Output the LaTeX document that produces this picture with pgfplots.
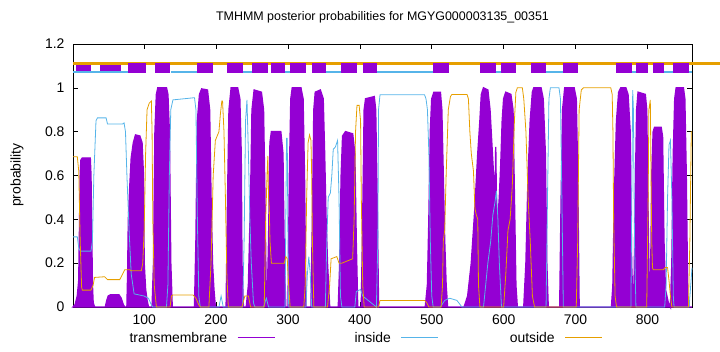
\documentclass[border=0pt]{standalone}
\usepackage{fontspec}
\setmainfont{Liberation Sans}
\usepackage{pgfplots}
\pgfplotsset{compat=1.18}
\definecolor{tmcol}{HTML}{9400D3}
\definecolor{incol}{HTML}{56B4E9}
\definecolor{outcol}{HTML}{E69F00}
\begin{document}
\begin{tikzpicture}
\path[use as bounding box] (0,0) rectangle (720bp,352bp);
\begin{axis}[
  at={(73bp,45bp)}, anchor=south west,
  scale only axis, width=619bp, height=263bp,
  xmin=1, xmax=862, ymin=0, ymax=1.2,
  clip=false,
  xtick={100,200,300,400,500,600,700,800},
  ytick={0,0.2,0.4,0.6,0.8,1,1.2},
  tick align=inside, major tick length=5bp,
  tick style={black, line width=0.6bp},
  axis line style={black, line width=0.8bp},
  /pgf/number format/assume math mode=true,
  tick label style={font=\fontsize{14}{16}\selectfont},
  xticklabel style={yshift=-4bp},
  yticklabel style={xshift=-5bp},
  title={TMHMM posterior probabilities for MGYG000003135\_00351},
  title style={font=\fontsize{12.5}{15}\selectfont, at={(axis description cs:0.5,1)}, anchor=base, yshift=18bp},
  ylabel={probability},
  ylabel style={font=\fontsize{14}{16}\selectfont, at={(axis description cs:-0.0905,0.502)}, anchor=center},
  legend columns=3, legend plot pos=right, legend cell align=right,
  legend style={draw=none, fill=none, font=\fontsize{14}{16}\selectfont,
    at={(axis description cs:0.084,-0.117)}, anchor=west,
    /tikz/every odd column/.append style={column sep=8bp},
    /tikz/every even column/.append style={column sep=17bp}},
  legend image code/.code={\draw[#1] (0bp,0bp) -- (37bp,0bp);},
]
% transmembrane
\addplot[fill=tmcol, draw=tmcol, line width=1.4bp, forget plot] table {
x y
1 0
4 0.01
7 0.05
9 0.12
10 0.35
11 0.6
12 0.67
14 0.68
25 0.68
26 0.6
27 0.35
28 0.1
29 0.02
31 0
46 0
48 0.03
50 0.05
53 0.055
65 0.055
68 0.04
71 0.01
73 0
76 0
77 0.15
78 0.4
80 0.55
82 0.68
85 0.75
88 0.785
94 0.78
97 0.75
99 0.6
100 0.2
102 0.08
104 0.03
106 0
111 0
113 0.2
115 0.8
117 0.97
119 1.0
131 1.0
133 0.97
135 0.8
137 0.2
139 0
170 0
172 0.3
174 0.85
177 0.97
180 0.995
188 0.99
191 0.9
193 0.5
195 0.2
197 0.08
199 0
214 0
216 0.5
218 0.9
221 1.0
230 1.0
233 0.95
235 0.7
236 0.2
238 0
242 0
245 0.1
248 0.5
250 0.9
253 0.99
263 0.98
266 0.9
268 0.5
270 0
271 0
273 0.3
275 0.75
277 0.8
290 0.8
293 0.7
295 0.2
297 0
300 0
302 0.6
304 0.95
306 1.0
318 1.0
321 0.95
323 0.6
325 0
332 0
334 0.4
336 0.9
338 0.98
345 0.99
349 0.95
351 0.7
353 0.4
355 0.2
358 0
370 0
372 0.2
374 0.6
376 0.78
380 0.8
390 0.79
393 0.7
395 0.3
397 0
402 0
404 0.4
406 0.9
408 0.95
420 0.96
422 0.9
424 0.5
426 0
491 0
494 0.1
496 0.4
498 0.8
500 0.95
503 0.98
512 0.98
514 0.9
516 0.6
518 0.3
520 0.1
522 0
545 0
550 0.05
555 0.2
560 0.45
564 0.7
567 0.85
569 0.97
572 1.0
578 0.99
581 0.9
584 0.72
586 0.6
588 0.45
589 0.73
590 0.45
592 0.4
594 0.5
596 0.65
598 0.85
600 0.95
603 0.98
610 0.97
613 0.9
615 0.5
617 0.1
619 0
628 0
631 0.2
634 0.6
637 0.85
640 0.98
642 1.0
652 1.0
655 0.95
658 0.7
660 0.2
662 0
678 0
680 0.5
682 0.9
685 1.0
698 1.0
701 0.95
703 0.6
705 0
750 0
752 0.1
754 0.5
757 0.85
760 0.98
763 1.0
770 1.0
773 0.97
776 0.8
778 0.2
780 0
781 0
783 0.5
785 0.9
787 0.98
797 0.97
799 0.9
801 0.4
803 0
804 0
806 0.6
808 0.8
810 0.82
819 0.82
821 0.78
823 0.3
825 0.08
829 0.02
832 0
834 0.2
836 0.7
838 0.95
840 1.0
850 1.0
852 0.95
854 0.6
856 0.05
858 0
862 0
} \closedcycle;
% inside
\addplot[incol, line width=0.8bp, forget plot] table {
x y
1 0.32
7 0.32
9 0.27
11 0.255
26 0.255
28 0.3
30 0.6
33 0.85
35 0.863
47 0.863
49 0.835
70 0.835
72 0.84
74 0.8
76 0.6
79 0.35
82 0.15
86 0.06
100 0.05
106 0.04
110 0.01
112 0
131 0
133 0.1
135 0.6
137 0.9
140 0.945
170 0.955
172 0.9
174 0.4
176 0.05
178 0
204 0
207 0.05
210 0
237 0
239 0.3
241 0.85
243 0.945
245 0.7
247 0.4
249 0.2
252 0.02
254 0
266 0
270 0.04
273 0
296 0
297 0.4
298 0.77
299 0.77
300 0.3
301 0
325 0
327 0.15
329 0.23
331 0.15
333 0
352 0
354 0.3
356 0.5
359 0.52
361 0.6
363 0.72
366 0.73
369 0.76
371 0.5
373 0.05
375 0
393 0
395 0.07
401 0.08
404 0.05
423 0
425 0.3
426 0.9
428 0.968
490 0.968
492 0.95
494 0.9
496 0.7
498 0.3
500 0.05
502 0
512 0
518 0.03
525 0.04
535 0.03
542 0
572 0
575 0.1
578 0.2
582 0.3
585 0.42
588 0.48
590 0.53
592 0.4
594 0.2
597 0
659 0
661 0.5
663 0.95
665 1.0
677 1.0
679 0.95
681 0.5
683 0
777 0
778.5 0.6
779.5 0.99
780.5 0.9
782 0.3
784 0
824 0
826 0.1
828 0.5
830 0.74
832 0.76
834 0.5
836 0.05
837 0
858 0
862 0.18
};
% outside
\addplot[outcol, line width=0.8bp, forget plot] table {
x y
1 0.686
7 0.686
9 0.62
11 0.3
13 0.09
14 0.077
26 0.077
29 0.1
31 0.135
45 0.138
49 0.125
66 0.125
70 0.15
73 0.17
80 0.17
82 0.165
96 0.165
98 0.2
100 0.35
102 0.7
104 0.9
107 0.93
110 0.94
111 0.8
112 0.4
114 0.1
117 0
136 0
138 0.05
140 0.055
168 0.055
172 0.04
176 0.01
178 0
190 0
193 0.2
196 0.6
199 0.76
204 0.8
206 0.88
208 0.94
209 0.94
211 0.8
213 0.5
215 0.15
217 0
236 0
240 0.05
245 0.05
248 0
267 0
269 0.4
271 0.61
272 0.69
273 0.5
274 0.45
275 0.3
277 0.2
295 0.2
297 0.23
299 0.22
301 0.1
303 0
322 0
324 0.1
326 0.5
328 0.75
330 0.785
332 0.76
333 0.6
334 0.3
336 0
355 0
358 0.1
360 0.22
368 0.23
371 0.2
375 0.2
390 0.22
392 0.4
394 0.8
396 0.92
399 0.92
401 0.85
402 0.5
404 0.1
406 0
426 0
428 0.03
490 0.03
493 0.02
496 0
513 0
515 0.1
516 0.3
518 0.35
520 0.6
523 0.9
526 0.96
528 0.97
549 0.97
551 0.95
553 0.8
555 0.7
558 0.62
560 0.45
562 0.42
564 0.4
565 0.1
567 0
600 0
603 0.15
606 0.35
609 0.4
612 0.55
615 0.85
617 0.98
619 1.0
626 1.0
628 0.95
631 0.8
634 0.5
637 0.3
640 0.05
643 0
701 0
703 0.3
705 0.9
708 0.99
711 1.0
749 1.0
751 0.97
752 0.8
753 0.4
755 0.05
757 0
799 0
801 0.5
802 0.9
804 0.945
805 0.6
806 0.3
807 0.18
808 0.17
822 0.17
825 0.18
828 0.18
830 0.12
832 0.05
834 0
857 0
859 0.3
861 0.8
862 0.8
};
% top bar: first two boxes (beneath lines)
\addplot[tmcol, line width=10bp, unbounded coords=jump, forget plot] coordinates {
(4.5,1.0913) (26.2,1.0913) (30,nan) (38.4,1.0913) (67.7,1.0913)};
% outside line
\addplot[outcol, line width=3.2bp, forget plot] coordinates {(1,1.11) (901,1.11)};
% inside segments
\addplot[incol, line width=2.6bp, unbounded coords=jump, forget plot] coordinates {
(1,1.073) (77.5,1.073) (100,nan)
(137.6,1.073) (173.8,1.073) (200,nan)
(238,1.073) (250.6,1.073) (260,nan)
(295.3,1.073) (302.2,1.073) (310,nan)
(352.5,1.073) (373.4,1.073) (380,nan)
(423.6,1.073) (501.8,1.073) (510,nan)
(589.8,1.073) (596.8,1.073) (600,nan)
(659.6,1.073) (681.9,1.073) (690,nan)
(778.2,1.073) (783.8,1.073) (790,nan)
(823,1.073) (835.5,1.073) (845,nan)
(857.8,1.073) (862,1.073)};
% TM boxes
\addplot[tmcol, line width=10bp, unbounded coords=jump, forget plot] coordinates {
(77.5,1.0913) (102.6,1.0913) (110,nan)
(115.2,1.0913) (136.2,1.0913) (150,nan)
(173.8,1.0913) (196,1.0913) (205,nan)
(215.7,1.0913) (238,1.0913) (245,nan)
(250.6,1.0913) (272.9,1.0913) (275,nan)
(277,1.0913) (295.3,1.0913) (298,nan)
(302.2,1.0913) (324.5,1.0913) (328,nan)
(332.9,1.0913) (352.5,1.0913) (360,nan)
(373.4,1.0913) (395.7,1.0913) (400,nan)
(404.1,1.0913) (423.6,1.0913) (450,nan)
(501.8,1.0913) (524.1,1.0913) (540,nan)
(567.5,1.0913) (589.8,1.0913) (593,nan)
(596.8,1.0913) (617.7,1.0913) (625,nan)
(638.6,1.0913) (659.6,1.0913) (670,nan)
(681.9,1.0913) (702.8,1.0913) (720,nan)
(755.9,1.0913) (778.2,1.0913) (780,nan)
(783.8,1.0913) (800.5,1.0913) (804,nan)
(807.6,1.0913) (823,1.0913) (830,nan)
(835.5,1.0913) (857.8,1.0913)};
\addlegendimage{tmcol, line width=0.8bp}
\addlegendentry{\makebox[97bp][r]{transmembrane}}
\addlegendimage{incol, line width=0.8bp}
\addlegendentry{\makebox[97bp][r]{inside}}
\addlegendimage{outcol, line width=0.8bp}
\addlegendentry{\makebox[97bp][r]{outside}}
\end{axis}
\end{tikzpicture}
\end{document}
